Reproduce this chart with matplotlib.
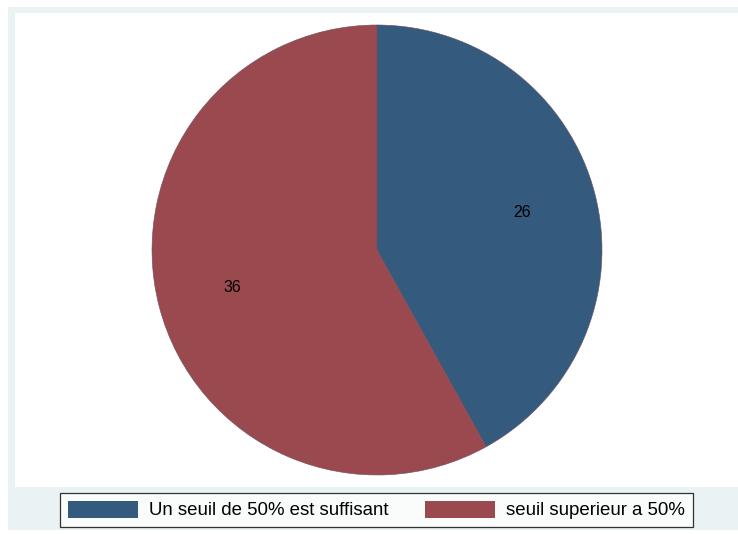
import matplotlib.pyplot as plt
from matplotlib.patches import Rectangle, Patch

plt.rcParams['font.family'] = ['Liberation Sans', 'DejaVu Sans']

# data
categories = ['Un seuil de 50% est suffisant', 'seuil superieur a 50%']
counts = [26, 36]
colors = ['#345a7e', '#9a4a4f']

W, H = 738, 534
fig = plt.figure(figsize=(W / 100, H / 100), dpi=100)
fig.patch.set_facecolor('white')

def px_rect(x0, y0, x1, y1, color):
    # rectangle given in pixel coordinates (top-left origin)
    r = Rectangle((x0 / W, 1 - y1 / H), (x1 - x0) / W, (y1 - y0) / H,
                  transform=fig.transFigure, facecolor=color, edgecolor='none', zorder=0)
    fig.add_artist(r)

# graph region (light grey-blue) and plot region (white)
px_rect(8, 7, W, 530, '#eaf2f3')
px_rect(15, 13, W, 487, 'white')

# pie
cx, cy, rad = 377, 250, 225
ax = fig.add_axes([(cx - rad) / W, 1 - (cy + rad) / H, 2 * rad / W, 2 * rad / H])
ax.set_facecolor('none')
wedges, texts = ax.pie(counts, colors=colors, startangle=90, counterclock=False,
                       labels=[str(c) for c in counts], labeldistance=0.665,
                       wedgeprops=dict(linewidth=0.4, edgecolor='#6a5060'),
                       textprops=dict(fontsize=11.5, color='black'))
for t in texts:
    t.set_ha('center')
    t.set_va('center')
ax.set_aspect('equal')
ax.set_xlim(-1, 1)
ax.set_ylim(-1, 1)
ax.axis('off')

# legend
handles = [Patch(facecolor=c, edgecolor='none') for c in colors]
leg = fig.legend(handles, categories, ncol=2, loc='center',
                 bbox_to_anchor=(376.5 / W, 1 - 510 / H),
                 fontsize=13.4, frameon=True, fancybox=False,
                 handlelength=3.75, handleheight=1.05, handletextpad=0.6,
                 columnspacing=2.0, borderpad=0.4, borderaxespad=0)
leg.get_frame().set_edgecolor('black')
leg.get_frame().set_linewidth(0.9)
leg.get_frame().set_facecolor('white')

fig.savefig('out.png', dpi=100)
